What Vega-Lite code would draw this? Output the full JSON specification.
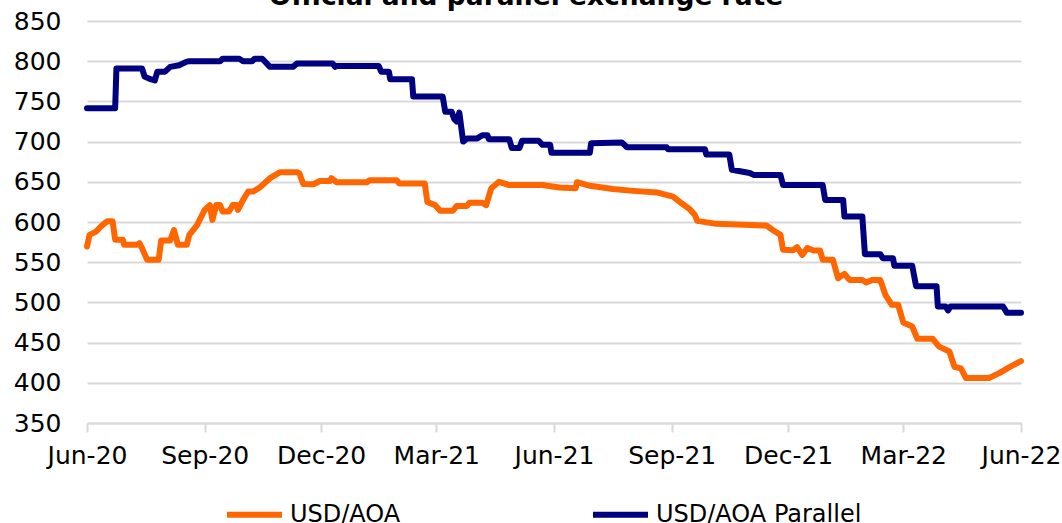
{
  "$schema": "https://vega.github.io/schema/vega-lite/v6.json",
  "autosize": {"type": "none"},
  "width": 934,
  "height": 402,
  "padding": {"left": 87, "top": 21, "right": 41, "bottom": 100},
  "background": "white",
  "title": {"text": "Official and parallel exchange rate", "fontSize": 26.5, "fontWeight": "bold", "font": "DejaVu Sans", "color": "#000000", "anchor": "middle", "dx": -28, "baseline": "alphabetic", "offset": -22},
  "config": {
    "view": {"stroke": null},
    "font": "DejaVu Sans"
  },
  "data": {"values": [
    {"date": "2020-06-01", "series": "USD/AOA Parallel", "value": 741.5},
    {"date": "2020-06-23", "series": "USD/AOA Parallel", "value": 741.5},
    {"date": "2020-06-24", "series": "USD/AOA Parallel", "value": 791},
    {"date": "2020-07-14", "series": "USD/AOA Parallel", "value": 791},
    {"date": "2020-07-16", "series": "USD/AOA Parallel", "value": 781},
    {"date": "2020-07-20", "series": "USD/AOA Parallel", "value": 778},
    {"date": "2020-07-24", "series": "USD/AOA Parallel", "value": 776},
    {"date": "2020-07-26", "series": "USD/AOA Parallel", "value": 787},
    {"date": "2020-08-01", "series": "USD/AOA Parallel", "value": 787},
    {"date": "2020-08-05", "series": "USD/AOA Parallel", "value": 793},
    {"date": "2020-08-12", "series": "USD/AOA Parallel", "value": 795},
    {"date": "2020-08-18", "series": "USD/AOA Parallel", "value": 799.5},
    {"date": "2020-08-20", "series": "USD/AOA Parallel", "value": 800},
    {"date": "2020-09-13", "series": "USD/AOA Parallel", "value": 800},
    {"date": "2020-09-15", "series": "USD/AOA Parallel", "value": 803},
    {"date": "2020-09-28", "series": "USD/AOA Parallel", "value": 803},
    {"date": "2020-10-01", "series": "USD/AOA Parallel", "value": 800},
    {"date": "2020-10-08", "series": "USD/AOA Parallel", "value": 800},
    {"date": "2020-10-10", "series": "USD/AOA Parallel", "value": 803},
    {"date": "2020-10-16", "series": "USD/AOA Parallel", "value": 803},
    {"date": "2020-10-22", "series": "USD/AOA Parallel", "value": 793},
    {"date": "2020-11-09", "series": "USD/AOA Parallel", "value": 793},
    {"date": "2020-11-12", "series": "USD/AOA Parallel", "value": 797},
    {"date": "2020-12-10", "series": "USD/AOA Parallel", "value": 797},
    {"date": "2020-12-12", "series": "USD/AOA Parallel", "value": 793},
    {"date": "2020-12-13", "series": "USD/AOA Parallel", "value": 794},
    {"date": "2021-01-15", "series": "USD/AOA Parallel", "value": 794},
    {"date": "2021-01-17", "series": "USD/AOA Parallel", "value": 787},
    {"date": "2021-01-23", "series": "USD/AOA Parallel", "value": 787},
    {"date": "2021-01-24", "series": "USD/AOA Parallel", "value": 777.6},
    {"date": "2021-02-10", "series": "USD/AOA Parallel", "value": 777.6},
    {"date": "2021-02-11", "series": "USD/AOA Parallel", "value": 756},
    {"date": "2021-03-06", "series": "USD/AOA Parallel", "value": 756},
    {"date": "2021-03-08", "series": "USD/AOA Parallel", "value": 737},
    {"date": "2021-03-13", "series": "USD/AOA Parallel", "value": 737},
    {"date": "2021-03-15", "series": "USD/AOA Parallel", "value": 728},
    {"date": "2021-03-17", "series": "USD/AOA Parallel", "value": 725},
    {"date": "2021-03-19", "series": "USD/AOA Parallel", "value": 736},
    {"date": "2021-03-22", "series": "USD/AOA Parallel", "value": 700},
    {"date": "2021-03-25", "series": "USD/AOA Parallel", "value": 704},
    {"date": "2021-04-02", "series": "USD/AOA Parallel", "value": 704},
    {"date": "2021-04-06", "series": "USD/AOA Parallel", "value": 708},
    {"date": "2021-04-10", "series": "USD/AOA Parallel", "value": 708},
    {"date": "2021-04-11", "series": "USD/AOA Parallel", "value": 703},
    {"date": "2021-04-27", "series": "USD/AOA Parallel", "value": 703},
    {"date": "2021-04-29", "series": "USD/AOA Parallel", "value": 692},
    {"date": "2021-05-05", "series": "USD/AOA Parallel", "value": 692},
    {"date": "2021-05-07", "series": "USD/AOA Parallel", "value": 701},
    {"date": "2021-05-20", "series": "USD/AOA Parallel", "value": 701},
    {"date": "2021-05-23", "series": "USD/AOA Parallel", "value": 696},
    {"date": "2021-05-29", "series": "USD/AOA Parallel", "value": 696},
    {"date": "2021-05-30", "series": "USD/AOA Parallel", "value": 686},
    {"date": "2021-06-29", "series": "USD/AOA Parallel", "value": 686},
    {"date": "2021-06-30", "series": "USD/AOA Parallel", "value": 698},
    {"date": "2021-07-24", "series": "USD/AOA Parallel", "value": 699},
    {"date": "2021-07-28", "series": "USD/AOA Parallel", "value": 693},
    {"date": "2021-08-28", "series": "USD/AOA Parallel", "value": 693},
    {"date": "2021-08-29", "series": "USD/AOA Parallel", "value": 690.5},
    {"date": "2021-09-27", "series": "USD/AOA Parallel", "value": 690.5},
    {"date": "2021-09-28", "series": "USD/AOA Parallel", "value": 684},
    {"date": "2021-10-16", "series": "USD/AOA Parallel", "value": 684},
    {"date": "2021-10-18", "series": "USD/AOA Parallel", "value": 665},
    {"date": "2021-11-01", "series": "USD/AOA Parallel", "value": 661},
    {"date": "2021-11-04", "series": "USD/AOA Parallel", "value": 658.6},
    {"date": "2021-11-25", "series": "USD/AOA Parallel", "value": 658.6},
    {"date": "2021-11-27", "series": "USD/AOA Parallel", "value": 646},
    {"date": "2021-12-28", "series": "USD/AOA Parallel", "value": 646},
    {"date": "2021-12-30", "series": "USD/AOA Parallel", "value": 627.5},
    {"date": "2022-01-13", "series": "USD/AOA Parallel", "value": 627.5},
    {"date": "2022-01-14", "series": "USD/AOA Parallel", "value": 606.7},
    {"date": "2022-01-28", "series": "USD/AOA Parallel", "value": 606.7},
    {"date": "2022-01-30", "series": "USD/AOA Parallel", "value": 560},
    {"date": "2022-02-11", "series": "USD/AOA Parallel", "value": 560},
    {"date": "2022-02-13", "series": "USD/AOA Parallel", "value": 555},
    {"date": "2022-02-21", "series": "USD/AOA Parallel", "value": 555},
    {"date": "2022-02-22", "series": "USD/AOA Parallel", "value": 545.5},
    {"date": "2022-03-08", "series": "USD/AOA Parallel", "value": 545.5},
    {"date": "2022-03-11", "series": "USD/AOA Parallel", "value": 520},
    {"date": "2022-03-27", "series": "USD/AOA Parallel", "value": 520},
    {"date": "2022-03-28", "series": "USD/AOA Parallel", "value": 495},
    {"date": "2022-04-03", "series": "USD/AOA Parallel", "value": 495},
    {"date": "2022-04-05", "series": "USD/AOA Parallel", "value": 490},
    {"date": "2022-04-07", "series": "USD/AOA Parallel", "value": 495},
    {"date": "2022-05-18", "series": "USD/AOA Parallel", "value": 495},
    {"date": "2022-05-21", "series": "USD/AOA Parallel", "value": 487},
    {"date": "2022-06-01", "series": "USD/AOA Parallel", "value": 487},

    {"date": "2020-06-01", "series": "USD/AOA", "value": 569.5},
    {"date": "2020-06-03", "series": "USD/AOA", "value": 584},
    {"date": "2020-06-08", "series": "USD/AOA", "value": 588},
    {"date": "2020-06-13", "series": "USD/AOA", "value": 596},
    {"date": "2020-06-17", "series": "USD/AOA", "value": 601},
    {"date": "2020-06-21", "series": "USD/AOA", "value": 601},
    {"date": "2020-06-23", "series": "USD/AOA", "value": 578},
    {"date": "2020-06-29", "series": "USD/AOA", "value": 578},
    {"date": "2020-06-30", "series": "USD/AOA", "value": 571.6},
    {"date": "2020-07-10", "series": "USD/AOA", "value": 571.6},
    {"date": "2020-07-12", "series": "USD/AOA", "value": 573.7},
    {"date": "2020-07-14", "series": "USD/AOA", "value": 567.5},
    {"date": "2020-07-18", "series": "USD/AOA", "value": 553},
    {"date": "2020-07-27", "series": "USD/AOA", "value": 553},
    {"date": "2020-07-29", "series": "USD/AOA", "value": 577},
    {"date": "2020-08-05", "series": "USD/AOA", "value": 577},
    {"date": "2020-08-08", "series": "USD/AOA", "value": 590},
    {"date": "2020-08-11", "series": "USD/AOA", "value": 571.6},
    {"date": "2020-08-18", "series": "USD/AOA", "value": 571.6},
    {"date": "2020-08-20", "series": "USD/AOA", "value": 584},
    {"date": "2020-08-26", "series": "USD/AOA", "value": 596},
    {"date": "2020-09-01", "series": "USD/AOA", "value": 615},
    {"date": "2020-09-05", "series": "USD/AOA", "value": 621},
    {"date": "2020-09-07", "series": "USD/AOA", "value": 602.6},
    {"date": "2020-09-10", "series": "USD/AOA", "value": 621},
    {"date": "2020-09-13", "series": "USD/AOA", "value": 621},
    {"date": "2020-09-15", "series": "USD/AOA", "value": 613},
    {"date": "2020-09-20", "series": "USD/AOA", "value": 613},
    {"date": "2020-09-23", "series": "USD/AOA", "value": 621},
    {"date": "2020-09-26", "series": "USD/AOA", "value": 621},
    {"date": "2020-09-27", "series": "USD/AOA", "value": 615},
    {"date": "2020-10-01", "series": "USD/AOA", "value": 627.5},
    {"date": "2020-10-05", "series": "USD/AOA", "value": 638},
    {"date": "2020-10-09", "series": "USD/AOA", "value": 638},
    {"date": "2020-10-14", "series": "USD/AOA", "value": 643},
    {"date": "2020-10-22", "series": "USD/AOA", "value": 654.5},
    {"date": "2020-10-30", "series": "USD/AOA", "value": 662},
    {"date": "2020-11-12", "series": "USD/AOA", "value": 662},
    {"date": "2020-11-14", "series": "USD/AOA", "value": 660.7},
    {"date": "2020-11-17", "series": "USD/AOA", "value": 647.4},
    {"date": "2020-11-25", "series": "USD/AOA", "value": 647},
    {"date": "2020-11-30", "series": "USD/AOA", "value": 651},
    {"date": "2020-12-08", "series": "USD/AOA", "value": 651},
    {"date": "2020-12-09", "series": "USD/AOA", "value": 654.5},
    {"date": "2020-12-13", "series": "USD/AOA", "value": 649.5},
    {"date": "2021-01-06", "series": "USD/AOA", "value": 649.5},
    {"date": "2021-01-08", "series": "USD/AOA", "value": 652},
    {"date": "2021-01-29", "series": "USD/AOA", "value": 652},
    {"date": "2021-01-31", "series": "USD/AOA", "value": 648},
    {"date": "2021-02-20", "series": "USD/AOA", "value": 648},
    {"date": "2021-02-22", "series": "USD/AOA", "value": 625},
    {"date": "2021-02-28", "series": "USD/AOA", "value": 621},
    {"date": "2021-03-04", "series": "USD/AOA", "value": 614},
    {"date": "2021-03-14", "series": "USD/AOA", "value": 614},
    {"date": "2021-03-17", "series": "USD/AOA", "value": 620},
    {"date": "2021-03-25", "series": "USD/AOA", "value": 620},
    {"date": "2021-03-27", "series": "USD/AOA", "value": 624},
    {"date": "2021-04-06", "series": "USD/AOA", "value": 624},
    {"date": "2021-04-09", "series": "USD/AOA", "value": 621},
    {"date": "2021-04-13", "series": "USD/AOA", "value": 642},
    {"date": "2021-04-19", "series": "USD/AOA", "value": 650},
    {"date": "2021-04-27", "series": "USD/AOA", "value": 646},
    {"date": "2021-05-23", "series": "USD/AOA", "value": 646},
    {"date": "2021-06-05", "series": "USD/AOA", "value": 643},
    {"date": "2021-06-18", "series": "USD/AOA", "value": 642},
    {"date": "2021-06-19", "series": "USD/AOA", "value": 649.5},
    {"date": "2021-06-29", "series": "USD/AOA", "value": 645},
    {"date": "2021-07-17", "series": "USD/AOA", "value": 641},
    {"date": "2021-08-02", "series": "USD/AOA", "value": 638.7},
    {"date": "2021-08-21", "series": "USD/AOA", "value": 636.6},
    {"date": "2021-09-02", "series": "USD/AOA", "value": 631.6},
    {"date": "2021-09-09", "series": "USD/AOA", "value": 623},
    {"date": "2021-09-15", "series": "USD/AOA", "value": 616},
    {"date": "2021-09-19", "series": "USD/AOA", "value": 609},
    {"date": "2021-09-21", "series": "USD/AOA", "value": 601.4},
    {"date": "2021-10-06", "series": "USD/AOA", "value": 597.7},
    {"date": "2021-11-14", "series": "USD/AOA", "value": 595.6},
    {"date": "2021-11-19", "series": "USD/AOA", "value": 590},
    {"date": "2021-11-25", "series": "USD/AOA", "value": 584},
    {"date": "2021-11-27", "series": "USD/AOA", "value": 565.4},
    {"date": "2021-12-05", "series": "USD/AOA", "value": 565},
    {"date": "2021-12-08", "series": "USD/AOA", "value": 568.7},
    {"date": "2021-12-12", "series": "USD/AOA", "value": 559},
    {"date": "2021-12-16", "series": "USD/AOA", "value": 567.5},
    {"date": "2021-12-21", "series": "USD/AOA", "value": 564.5},
    {"date": "2021-12-26", "series": "USD/AOA", "value": 564.5},
    {"date": "2021-12-28", "series": "USD/AOA", "value": 553},
    {"date": "2022-01-05", "series": "USD/AOA", "value": 553},
    {"date": "2022-01-09", "series": "USD/AOA", "value": 530},
    {"date": "2022-01-14", "series": "USD/AOA", "value": 535.5},
    {"date": "2022-01-18", "series": "USD/AOA", "value": 528},
    {"date": "2022-01-28", "series": "USD/AOA", "value": 528},
    {"date": "2022-01-31", "series": "USD/AOA", "value": 524.7},
    {"date": "2022-02-05", "series": "USD/AOA", "value": 528},
    {"date": "2022-02-11", "series": "USD/AOA", "value": 528},
    {"date": "2022-02-15", "series": "USD/AOA", "value": 509.4},
    {"date": "2022-02-20", "series": "USD/AOA", "value": 497},
    {"date": "2022-02-25", "series": "USD/AOA", "value": 497},
    {"date": "2022-03-01", "series": "USD/AOA", "value": 475},
    {"date": "2022-03-08", "series": "USD/AOA", "value": 470},
    {"date": "2022-03-12", "series": "USD/AOA", "value": 454.7},
    {"date": "2022-03-24", "series": "USD/AOA", "value": 454.7},
    {"date": "2022-03-29", "series": "USD/AOA", "value": 445},
    {"date": "2022-04-06", "series": "USD/AOA", "value": 439},
    {"date": "2022-04-10", "series": "USD/AOA", "value": 420},
    {"date": "2022-04-15", "series": "USD/AOA", "value": 418},
    {"date": "2022-04-19", "series": "USD/AOA", "value": 406},
    {"date": "2022-05-07", "series": "USD/AOA", "value": 406},
    {"date": "2022-05-15", "series": "USD/AOA", "value": 412},
    {"date": "2022-05-23", "series": "USD/AOA", "value": 419.5},
    {"date": "2022-06-01", "series": "USD/AOA", "value": 427}
  ]},
  "mark": {"type": "line", "strokeWidth": 6, "strokeJoin": "round", "strokeCap": "round", "clip": false},
  "encoding": {
    "x": {
      "field": "date", "type": "temporal",
      "scale": {"type": "utc", "domain": ["2020-06-01", "2022-06-01"], "nice": false},
      "axis": {
        "title": null, "grid": false,
        "values": [
          {"year": 2020, "month": 6, "date": 1, "utc": true},
          {"year": 2020, "month": 9, "date": 1, "utc": true},
          {"year": 2020, "month": 12, "date": 1, "utc": true},
          {"year": 2021, "month": 3, "date": 1, "utc": true},
          {"year": 2021, "month": 6, "date": 1, "utc": true},
          {"year": 2021, "month": 9, "date": 1, "utc": true},
          {"year": 2021, "month": 12, "date": 1, "utc": true},
          {"year": 2022, "month": 3, "date": 1, "utc": true},
          {"year": 2022, "month": 6, "date": 1, "utc": true}
        ],
        "labelExpr": "utcFormat(datum.value, '%b-%y')",
        "labelFontSize": 25, "labelFont": "DejaVu Sans", "labelColor": "#000000",
        "labelPadding": 11, "labelFlush": false, "labelOverlap": false,
        "domainColor": "#d9d9d9", "domainWidth": 2,
        "tickColor": "#d9d9d9", "tickWidth": 2, "tickSize": 9
      }
    },
    "y": {
      "field": "value", "type": "quantitative",
      "scale": {"domain": [350, 850], "nice": false, "zero": false},
      "axis": {
        "title": null, "values": [350, 400, 450, 500, 550, 600, 650, 700, 750, 800, 850],
        "domain": false, "ticks": false,
        "gridColor": "#d9d9d9", "gridWidth": 2,
        "labelFontSize": 25, "labelFont": "DejaVu Sans", "labelColor": "#000000",
        "labelPadding": 26
      }
    },
    "color": {
      "field": "series", "type": "nominal",
      "scale": {"domain": ["USD/AOA", "USD/AOA Parallel"], "range": ["#FF6600", "#000080"]},
      "legend": {
        "title": null, "orient": "none", "direction": "horizontal", "columns": 2,
        "legendX": 137, "legendY": 463, "padding": 0,
        "symbolType": "stroke", "symbolSize": 3025, "symbolStrokeWidth": 6,
        "labelFontSize": 24, "labelFont": "DejaVu Sans", "labelColor": "#000000",
        "labelOffset": 5, "columnPadding": 180, "labelLimit": 400
      }
    }
  }
}
